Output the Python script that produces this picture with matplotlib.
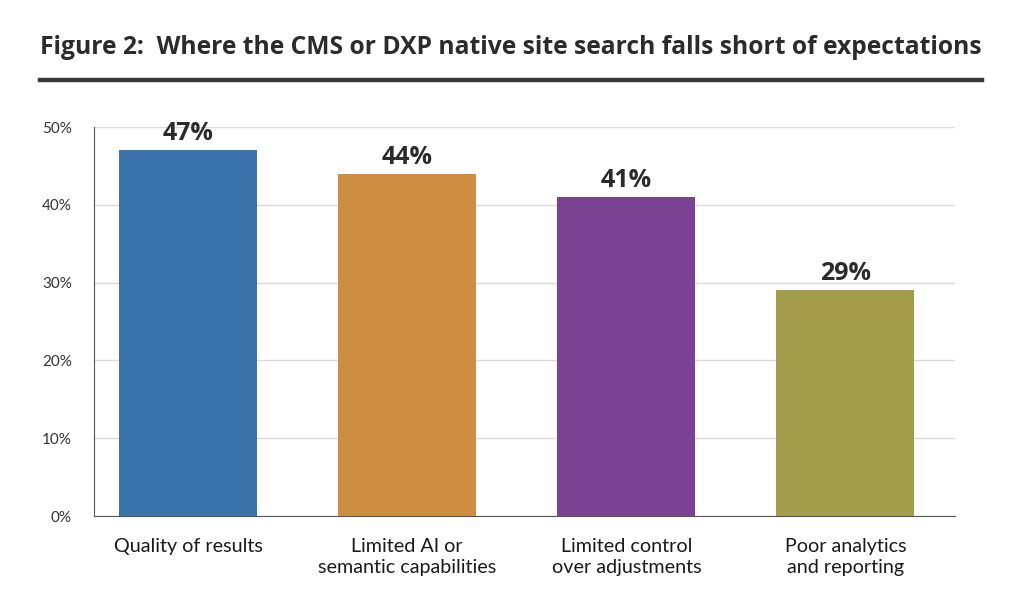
import matplotlib
matplotlib.use("Agg")
import matplotlib.pyplot as plt
from matplotlib.ticker import PercentFormatter

categories = ["Quality of results", "Limited AI or\nsemantic capabilities",
              "Limited control\nover adjustments", "Poor analytics\nand reporting"]
values = [47, 44, 41, 29]
colors = ["#3a73aa", "#cd8e41", "#7b4193", "#a39c4b"]
yticks = [0, 10, 20, 30, 40, 50]
title = "Figure 2:  Where the CMS or DXP native site search falls short of expectations"

plt.rcParams['font.family'] = ['Lato', 'DejaVu Sans']

fig = plt.figure(figsize=(10.24, 6.11), dpi=100)
ax = fig.add_axes([94/1024, 1-516/611, (955-94)/1024, (516-127)/611])

x = list(range(len(categories)))
ax.bar(x, values, width=0.63, color=colors, zorder=3)
for xi, v in zip(x, values):
    ax.text(xi, v + 0.5, f"{v}%", ha="center", va="bottom", fontsize=18,
            fontweight="bold", color="#2b2b2b", family=['Open Sans', 'DejaVu Sans'], zorder=4)

ax.set_xlim(-0.43, 3.5)
ax.set_ylim(0, 50)
ax.set_yticks(yticks)
ax.yaxis.set_major_formatter(PercentFormatter(decimals=0))
ax.set_xticks(x)
ax.set_xticklabels(categories, fontsize=14.2, color="#1a1a1a", linespacing=1.25)
ax.tick_params(axis="both", length=0)
ax.tick_params(axis="y", labelsize=11, colors="#333333", pad=16)
ax.tick_params(axis="x", pad=16)
ax.grid(axis="y", color="#d9d9d9", linewidth=1, zorder=0)
for s in ["top", "right"]:
    ax.spines[s].set_visible(False)
ax.spines["left"].set_color("#555555")
ax.spines["bottom"].set_color("#555555")

fig.text(40/1024, 1-47/611, title, fontsize=17.75, fontweight="bold",
         color="#2b2b2b", va="center", ha="left", family=['Open Sans', 'DejaVu Sans'])
fig.add_artist(plt.Line2D([40/1024, 982/1024], [1-80/611, 1-80/611],
                          color="#3a3a3a", linewidth=3.2, transform=fig.transFigure))

fig.savefig("out.png", dpi=100, facecolor="white")
